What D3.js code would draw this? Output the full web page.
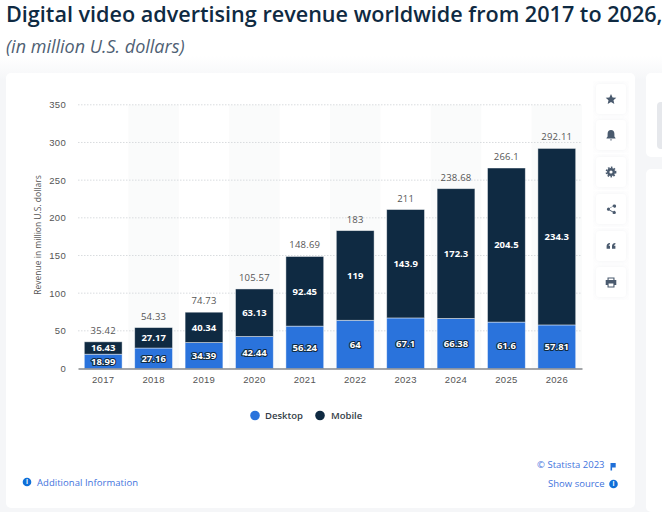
<!DOCTYPE html>
<html>
<head>
<meta charset="utf-8">
<script src="https://cdn.jsdelivr.net/npm/d3@7.9.0/dist/d3.min.js"></script>
<style>
  html, body { margin: 0; padding: 0; background: #fff; overflow: hidden; }
  svg { display: block; font-family: "Open Sans", sans-serif; }
  .tick-label { font-size: 9.5px; fill: #555; letter-spacing: 0.3px; }
  .inner { font-size: 9.5px; font-weight: 700; fill: #fff; paint-order: stroke; stroke: #0f2a42; stroke-width: 2.2px; stroke-linejoin: round; text-anchor: middle; }
  .total { font-size: 9.5px; fill: #555; text-anchor: middle; letter-spacing: 0.2px; }
  .link { font-size: 9.5px; fill: #3f73dd; }
  .info { font-size: 6.5px; font-weight: 700; fill: #fff; text-anchor: middle; }
</style>
</head>
<body>
<svg id="chart" width="662" height="512"></svg>
<script>
// Chart values
const years = ["2017", "2018", "2019", "2020", "2021", "2022", "2023", "2024", "2025", "2026"];
const desktop = [18.99, 27.16, 34.39, 42.44, 56.24, 64, 67.1, 66.38, 61.6, 57.81];
const mobile = [16.43, 27.17, 40.34, 63.13, 92.45, 119, 143.9, 172.3, 204.5, 234.3];
const totals = [35.42, 54.33, 74.73, 105.57, 148.69, 183, 211, 238.68, 266.1, 292.11];
const yTicks = [0, 50, 100, 150, 200, 250, 300, 350];

const svg = d3.select("#chart");

// Page background and cards
const defs = svg.append("defs");
const shadow = defs.append("filter").attr("id", "soft").attr("x", "-10%").attr("y", "-10%").attr("width", "120%").attr("height", "120%");
shadow.append("feDropShadow").attr("dx", 0).attr("dy", 0).attr("stdDeviation", 3).attr("flood-color", "#8a94a6").attr("flood-opacity", 0.12);
const fade = defs.append("linearGradient").attr("id", "fade").attr("x1", 0).attr("x2", 0).attr("y1", 0).attr("y2", 1);
fade.append("stop").attr("offset", 0).attr("stop-color", "#fff");
fade.append("stop").attr("offset", 1).attr("stop-color", "#f5f6f8");

svg.append("rect").attr("x", 0).attr("y", 56).attr("width", 662).attr("height", 24).attr("fill", "url(#fade)");
svg.append("rect").attr("x", 0).attr("y", 80).attr("width", 662).attr("height", 432).attr("fill", "#f5f6f8");
svg.append("rect").attr("x", 646).attr("y", 73).attr("width", 30).attr("height", 84).attr("rx", 5).attr("fill", "#fff");
svg.append("rect").attr("x", 657).attr("y", 102).attr("width", 20).attr("height", 47).attr("rx", 4).attr("fill", "#e6e8ec");
svg.append("rect").attr("x", 646).attr("y", 169).attr("width", 30).attr("height", 343).attr("rx", 5).attr("fill", "#fff");
svg.append("rect").attr("x", 6).attr("y", 73).attr("width", 298 * 2 + 33).attr("height", 435).attr("rx", 5).attr("fill", "#fff");

// Title
svg.append("text").attr("x", 6).attr("y", 22).attr("font-size", "21.6px").attr("font-weight", 600).attr("fill", "#0f2a42")
  .text("Digital video advertising revenue worldwide from 2017 to 2026,");
svg.append("text").attr("x", 6).attr("y", 53).attr("font-size", "18px").attr("font-style", "italic").attr("fill", "#4f5f74")
  .text("(in million U.S. dollars)");

// Scales
const x = d3.scaleBand().domain(years).range([78, 582]).paddingInner(0.25).paddingOuter(0.125);
const y = d3.scaleLinear().domain([0, 350]).range([368.5, 104.8]);
const step = x.step();

// Alternate column shading
svg.append("g").selectAll("rect")
  .data(years.filter((d, i) => i % 2 === 1))
  .join("rect")
  .attr("x", (d) => x(d) - (step - x.bandwidth()) / 2)
  .attr("y", y(350))
  .attr("width", step)
  .attr("height", y(0) - y(350))
  .attr("fill", "#fafbfb");

// Gridlines
svg.append("g").selectAll("line")
  .data(yTicks.slice(1))
  .join("line")
  .attr("x1", 78).attr("x2", 582)
  .attr("y1", (d) => y(d)).attr("y2", (d) => y(d))
  .attr("stroke", "#d9dcdf").attr("stroke-width", 1).attr("stroke-dasharray", "1.5 1.5");

// Stacked bars
const rows = years.map((year, i) => ({ year, desktop: desktop[i], mobile: mobile[i], total: totals[i] }));
const stack = d3.stack().keys(["desktop", "mobile"])(rows);
const colors = { desktop: "#2a73dc", mobile: "#0f2a42" };
const bars = svg.append("g").selectAll("g").data(stack).join("g");
bars.selectAll("rect")
  .data((s) => s.map((d) => ({ key: s.key, d })))
  .join("rect")
  .attr("x", (o) => x(o.d.data.year))
  .attr("y", (o) => y(o.d[1]))
  .attr("width", x.bandwidth())
  .attr("height", (o) => y(o.d[0]) - y(o.d[1]))
  .attr("fill", (o) => colors[o.key])
  .attr("stroke", "#fff")
  .attr("stroke-opacity", 0.55)
  .attr("stroke-width", 0.8);

// Inner value labels
bars.selectAll("text")
  .data((s) => s.map((d) => ({ key: s.key, d })))
  .join("text")
  .attr("class", "inner")
  .attr("x", (o) => x(o.d.data.year) + x.bandwidth() / 2)
  .attr("y", (o) => (y(o.d[0]) + y(o.d[1])) / 2 + 3.4)
  .text((o) => o.d.data[o.key]);

// Totals above the bars
svg.append("g").selectAll("text")
  .data(rows)
  .join("text")
  .attr("class", "total")
  .attr("x", (d) => x(d.year) + x.bandwidth() / 2)
  .attr("y", (d) => y(d.total) - 8)
  .text((d) => d.total);

// Axes
const yAxis = svg.append("g").attr("transform", "translate(78,0)")
  .call(d3.axisLeft(y).tickValues(yTicks).tickSize(0).tickPadding(12));
yAxis.select(".domain").remove();
yAxis.selectAll("text").attr("class", "tick-label").attr("font-family", null).attr("font-size", null);

const xAxis = svg.append("g").attr("transform", "translate(0,368.5)")
  .call(d3.axisBottom(x).tickSize(0).tickPadding(8));
xAxis.select(".domain").attr("stroke", "#4a4f55").attr("stroke-width", 1.2);
xAxis.selectAll("text").attr("class", "tick-label").attr("font-family", null).attr("font-size", null);

svg.append("text")
  .attr("transform", "translate(41,235) rotate(-90)")
  .attr("text-anchor", "middle")
  .attr("font-size", "8.5px")
  .attr("fill", "#555")
  .text("Revenue in million U.S. dollars");

// Legend
const legendItems = [["Desktop", "#2a73dc", 255, 265], ["Mobile", "#0f2a42", 320, 331]];
legendItems.forEach(([name, color, cx, tx]) => {
  svg.append("circle").attr("cx", cx).attr("cy", 415.5).attr("r", 4.8).attr("fill", color);
  svg.append("text").attr("x", tx).attr("y", 419).attr("font-size", "9.5px").attr("font-weight", 600).attr("fill", "#333d47").text(name);
});

// Side buttons
const buttonTops = [84, 120, 157, 194, 231, 267];
const buttons = svg.append("g").selectAll("g").data(buttonTops).join("g")
  .attr("transform", (d) => `translate(596,${d})`);
buttons.append("rect").attr("width", 30).attr("height", 30).attr("rx", 4).attr("fill", "#fff").attr("filter", "url(#soft)");

const iconColor = "#4a5a6e";
const icons = [
  "M15 10l1.6 3.4 3.7.4-2.8 2.5.8 3.7-3.3-1.9-3.3 1.9.8-3.7-2.8-2.5 3.7-.4z",
  "M15 10c-2.2 0-3.4 1.7-3.4 3.7v2.8l-1.1 1.4v.7h9v-.7l-1.1-1.4v-2.8c0-2-1.2-3.7-3.4-3.7zM13.7 19.4h2.6l-1.3 1.4z",
  "M15 11a4 4 0 1 0 0 8a4 4 0 1 0 0-8zm0 2.4a1.6 1.6 0 1 1 0 3.2a1.6 1.6 0 1 1 0-3.2z",
  "M18.5 10.5a1.6 1.6 0 1 1-1.5 2.1l-3.2 1.7a1.6 1.6 0 0 1 0 1.4l3.2 1.7a1.6 1.6 0 1 1-.4.8l-3.2-1.7a1.6 1.6 0 1 1 0-2.6l3.2-1.7a1.6 1.6 0 0 1 1.9-1.7z",
  "M14 12v1.2c-.9.3-1.3.9-1.3 1.6h1.3v3h-3.4v-2.6c0-1.8 1-3 3.4-3.2zM19.4 12v1.2c-.9.3-1.3.9-1.3 1.6h1.3v3H16v-2.6c0-1.8 1-3 3.4-3.2z",
  "M11.5 10.5h7v2.5h1.8v5h-1.8v2.5h-7V18H9.7v-5h1.8zm1.1 1v1.5h4.8v-1.5zm0 5v3h4.8v-3z"
];
buttons.append("path").attr("d", (d, i) => icons[i]).attr("fill", iconColor).attr("fill-rule", "evenodd");
// Gear teeth
buttons.filter((d, i) => i === 2).append("circle")
  .attr("cx", 15).attr("cy", 15).attr("r", 4.6)
  .attr("fill", "none").attr("stroke", iconColor).attr("stroke-width", 1.6).attr("stroke-dasharray", "1.6 1.4");

// Footer links
svg.append("circle").attr("cx", 27).attr("cy", 482).attr("r", 4.3).attr("fill", "#0f6fd8");
svg.append("text").attr("class", "info").attr("x", 27).attr("y", 484.3).text("i");
svg.append("text").attr("class", "link").attr("x", 37).attr("y", 486).attr("textLength", 101).text("Additional Information");
svg.append("text").attr("class", "link").attr("x", 604.5).attr("y", 468).attr("text-anchor", "end").text("© Statista 2023");
svg.append("path").attr("d", "M610.5 463h5.2v4.5h-3.6v3h-1.6z").attr("fill", "#1f6fd8");
svg.append("text").attr("class", "link").attr("x", 604.5).attr("y", 487).attr("text-anchor", "end").text("Show source");
svg.append("circle").attr("cx", 613.5).attr("cy", 484).attr("r", 4.3).attr("fill", "#0f6fd8");
svg.append("text").attr("class", "info").attr("x", 613.5).attr("y", 486.3).text("i");
</script>
</body>
</html>
